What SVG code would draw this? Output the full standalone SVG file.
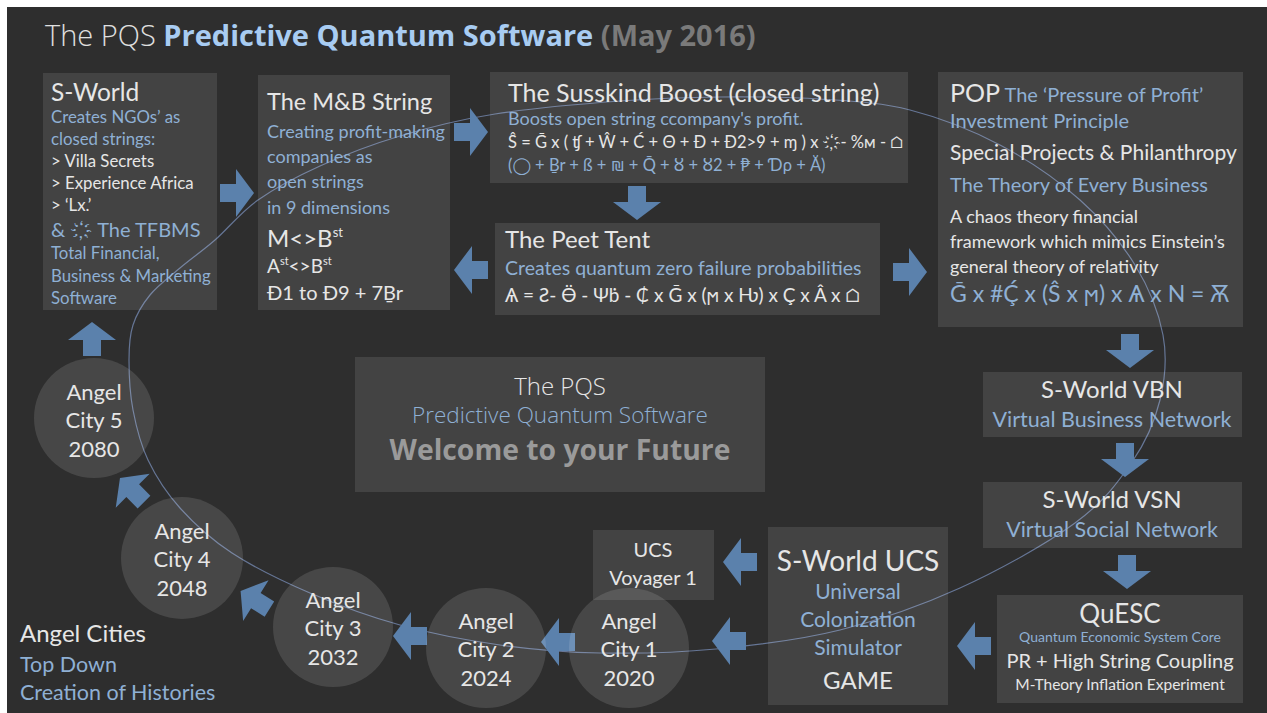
<svg xmlns="http://www.w3.org/2000/svg" width="1267" height="713" viewBox="0 0 1267 713">
<defs>
<style>
.bg{fill:#2e2e2e}
.box{fill:#ffffff;fill-opacity:0.1}
.circ{fill:#ffffff;fill-opacity:0.12}
.t{font-family:Lato,"DejaVu Sans",sans-serif}
.o{font-family:"Open Sans","DejaVu Sans",sans-serif}
.w{fill:#e6e6e6}
.b{fill:#8fb0d4}
.m{text-anchor:middle}
.arrow{fill:#5b81ac}
.orbit{fill:none;stroke:#7083a8;stroke-width:1.2;stroke-opacity:0.85}
</style>
<path id="arr" d="M-17,-9 H-1 V-24 L17,0 L-1,24 V9 H-17 Z"/>
</defs>
<rect x="0" y="0" width="1267" height="713" fill="#ffffff"/>
<rect class="bg" x="7" y="7" width="1260" height="706"/>

<g id="connectors">
<path class="orbit" d="M129,360 C129,345.8 129.5,335.8 133,325 S142.2,304.5 150,295 S169.2,277.2 180,268 S202,251.3 215,240 S240.5,212.3 258,200 S296.3,176.7 320,166 S370.8,144.7 400,136 S458.3,119.8 495,114 S582.5,103.8 620,101 S686.7,97.3 720,97 S788.3,96.8 820,99 S880,102.3 910,110 S971.7,130 1000,145 S1057.5,180 1080,200 S1121.2,242.5 1135,265 S1158.8,312.5 1163,335 S1165.2,378.8 1160,400 S1146.2,441.5 1132,462 S1103.7,502 1075,523 S999.2,570.2 960,588 S880.7,619.8 840,630 S756,645.2 716,649 S636,653.7 600,653 S533.3,649.7 500,645 S431.7,633.7 400,625 S338,605 310,593 S253.7,567.2 232,553 S194,523.5 180,508 S155.8,476.3 148,460 S136.2,426.7 133,410 S129,374.2 129,360 Z"/>
<use href="#arr" class="arrow" transform="translate(237,193)"/>
<use href="#arr" class="arrow" transform="translate(471,132)"/>
<use href="#arr" class="arrow" transform="translate(637,203) rotate(90)"/>
<use href="#arr" class="arrow" transform="translate(471,270) rotate(180)"/>
<use href="#arr" class="arrow" transform="translate(910,272)"/>
<use href="#arr" class="arrow" transform="translate(1130,351) rotate(90)"/>
<use href="#arr" class="arrow" transform="translate(1125,460) rotate(90)"/>
<use href="#arr" class="arrow" transform="translate(1127,572) rotate(90)"/>
<use href="#arr" class="arrow" transform="translate(974,646) rotate(180)"/>
<use href="#arr" class="arrow" transform="translate(740,562) rotate(180)"/>
<use href="#arr" class="arrow" transform="translate(729,641) rotate(180)"/>
<use href="#arr" class="arrow" transform="translate(558,642) rotate(180)"/>
<use href="#arr" class="arrow" transform="translate(410,636) rotate(180)"/>
<use href="#arr" class="arrow" transform="translate(255,600) rotate(212)"/>
<use href="#arr" class="arrow" transform="translate(132,490) rotate(225)"/>
<use href="#arr" class="arrow" transform="translate(92,339) rotate(-90)"/>
</g>

<g id="title">
<text class="o" x="45" y="46" font-size="29"><tspan font-weight="300" fill="#e0e0e0">The PQS </tspan><tspan font-weight="700" fill="#a8ccf2">Predictive Quantum Software</tspan><tspan font-weight="700" fill="#7a7a7a"> (May 2016)</tspan></text>
</g>

<g id="sworld">
<rect class="box" x="43" y="73" width="174" height="237"/>
<text class="t w" x="51" y="101" font-size="24.5">S-World</text>
<text class="t b" x="51" y="123" font-size="16.8">Creates NGOs’ as</text>
<text class="t b" x="51" y="145" font-size="16.8">closed strings:</text>
<text class="t w" x="51" y="167" font-size="16.8">&gt; Villa Secrets</text>
<text class="t w" x="51" y="189" font-size="16.8">&gt; Experience Africa</text>
<text class="t w" x="51" y="211" font-size="16.8">&gt; ‘Lx.’</text>
<text class="t b" x="51" y="237" font-size="20">&amp; ҉ The TFBMS</text>
<text class="t b" x="51" y="259" font-size="16.8">Total Financial,</text>
<text class="t b" x="51" y="282" font-size="16.8">Business &amp; Marketing</text>
<text class="t b" x="51" y="304" font-size="16.8">Software</text>
</g>

<g id="mbstring">
<rect class="box" x="258" y="75" width="192" height="235"/>
<text class="t w" x="267" y="110" font-size="23.5">The M&amp;B String</text>
<text class="t b" x="267" y="138" font-size="18">Creating profit-making</text>
<text class="t b" x="267" y="163" font-size="18">companies as</text>
<text class="t b" x="267" y="188" font-size="18">open strings</text>
<text class="t b" x="267" y="214" font-size="18">in 9 dimensions</text>
<text class="t w" x="267" y="247" font-size="24">M&lt;&gt;B<tspan font-size="13" dy="-10">st</tspan></text>
<text class="t w" x="267" y="273" font-size="19">A<tspan font-size="11" dy="-8">st</tspan><tspan dy="8">&lt;&gt;B</tspan><tspan font-size="11" dy="-8">st</tspan></text>
<text class="t w" x="267" y="300" font-size="20">Đ1 to Đ9 + 7Ḇr</text>
</g>

<g id="susskind">
<rect class="box" x="490" y="72" width="418" height="111"/>
<text class="t w" x="508" y="102" font-size="25">The Susskind Boost (closed string)</text>
<text class="t b" x="508" y="125" font-size="18">Boosts open string ccompany's profit.</text>
<text class="t w" x="508" y="148" font-size="16.5">Ŝ = Ḡ x ( ʧ + Ŵ + Ć + Θ + Đ + Đ2&gt;9 + ɱ ) x ҉- %м - ⌂</text>
<text class="t b" x="508" y="171" font-size="16.5">(◯ + Ḇr + ß + ₪ + Q̄ + Ȣ + Ȣ2 + ₱ + Ɗρ + Ă)</text>
</g>

<g id="peettent">
<rect class="box" x="495" y="223" width="385" height="92"/>
<text class="t w" x="505" y="248" font-size="24">The Peet Tent</text>
<text class="t b" x="505" y="275" font-size="19.5">Creates quantum zero failure probabilities</text>
<text class="t w" x="505" y="302" font-size="19">Ѧ = Ƨ- Ӫ - Ψḃ - ₵ x Ḡ x (ϻ x Ƕ) x Ç x Â x ⌂</text>
</g>

<g id="pop">
<rect class="box" x="938" y="72" width="305" height="255"/>
<text class="t w" x="950" y="102" font-size="25">POP<tspan class="b" font-size="20"> The ‘Pressure of Profit’</tspan></text>
<text class="t b" x="950" y="128" font-size="20">Investment Principle</text>
<text class="t w" x="950" y="160" font-size="21">Special Projects &amp; Philanthropy</text>
<text class="t b" x="950" y="192" font-size="20">The Theory of Every Business</text>
<text class="t w" x="950" y="223" font-size="18">A chaos theory financial</text>
<text class="t w" x="950" y="248" font-size="18">framework which mimics Einstein’s</text>
<text class="t w" x="950" y="273" font-size="18">general theory of relativity</text>
<text class="t b" x="950" y="302" font-size="23">Ḡ x #Ḉ x (Ŝ x ϻ) x Ѧ  x N = Ѫ</text>
</g>

<g id="vbn">
<rect class="box" x="983" y="372" width="259" height="65"/>
<text class="t w m" x="1112" y="398" font-size="24">S-World VBN</text>
<text class="t b m" x="1112" y="427" font-size="21.5">Virtual Business Network</text>
</g>

<g id="vsn">
<rect class="box" x="983" y="482" width="259" height="66"/>
<text class="t w m" x="1112" y="508" font-size="24">S-World VSN</text>
<text class="t b m" x="1112" y="537" font-size="21.5">Virtual Social Network</text>
</g>

<g id="quesc">
<rect class="box" x="997" y="595" width="246" height="108"/>
<text class="t w m" x="1120" y="623" font-size="26">QuESC</text>
<text class="t b m" x="1120" y="642" font-size="14">Quantum Economic System Core</text>
<text class="t w m" x="1120" y="668" font-size="20">PR + High String Coupling</text>
<text class="t w m" x="1120" y="690" font-size="15.5">M-Theory Inflation Experiment</text>
</g>

<g id="ucs">
<rect class="box" x="768" y="527" width="180" height="178"/>
<text class="t w m" x="858" y="571" font-size="28">S-World UCS</text>
<text class="t b m" x="858" y="599" font-size="21">Universal</text>
<text class="t b m" x="858" y="627" font-size="21">Colonization</text>
<text class="t b m" x="858" y="655" font-size="21">Simulator</text>
<text class="t w m" x="858" y="689" font-size="24">GAME</text>
</g>

<g id="voyager">
<rect class="box" x="593" y="530" width="121" height="70"/>
<text class="t w m" x="653" y="557" font-size="20">UCS</text>
<text class="t w m" x="653" y="585" font-size="20">Voyager 1</text>
</g>

<g id="center">
<rect class="box" x="355" y="357" width="410" height="135"/>
<text class="o w m" x="560" y="395" font-size="24" font-weight="300">The PQS</text>
<text class="o b m" x="560" y="423" font-size="22.5" font-weight="300">Predictive Quantum Software</text>
<text class="o m" x="560" y="460" font-size="28.3" font-weight="700" fill="#9a9a9a">Welcome to your Future</text>
</g>

<g id="city1">
<circle class="circ" cx="629" cy="648" r="60"/>
<text class="t w m" x="629" y="629" font-size="22">Angel</text>
<text class="t w m" x="629" y="657" font-size="22">City 1</text>
<text class="t w m" x="629" y="686" font-size="22">2020</text>
</g>
<g id="city2">
<circle class="circ" cx="486" cy="648" r="60"/>
<text class="t w m" x="486" y="629" font-size="22">Angel</text>
<text class="t w m" x="486" y="657" font-size="22">City 2</text>
<text class="t w m" x="486" y="686" font-size="22">2024</text>
</g>
<g id="city3">
<circle class="circ" cx="333" cy="627" r="60"/>
<text class="t w m" x="333" y="608" font-size="22">Angel</text>
<text class="t w m" x="333" y="636" font-size="22">City 3</text>
<text class="t w m" x="333" y="665" font-size="22">2032</text>
</g>
<g id="city4">
<circle class="circ" cx="182" cy="558" r="61"/>
<text class="t w m" x="182" y="539" font-size="22">Angel</text>
<text class="t w m" x="182" y="567" font-size="22">City 4</text>
<text class="t w m" x="182" y="596" font-size="22">2048</text>
</g>
<g id="city5">
<circle class="circ" cx="94" cy="418" r="60"/>
<text class="t w m" x="94" y="400" font-size="22">Angel</text>
<text class="t w m" x="94" y="428" font-size="22">City 5</text>
<text class="t w m" x="94" y="457" font-size="22">2080</text>
</g>

<g id="angelcities">
<text class="t w" x="20" y="642" font-size="24">Angel Cities</text>
<text class="t b" x="20" y="672" font-size="21.5">Top Down</text>
<text class="t b" x="20" y="700" font-size="21.5">Creation of Histories</text>
</g>
</svg>
